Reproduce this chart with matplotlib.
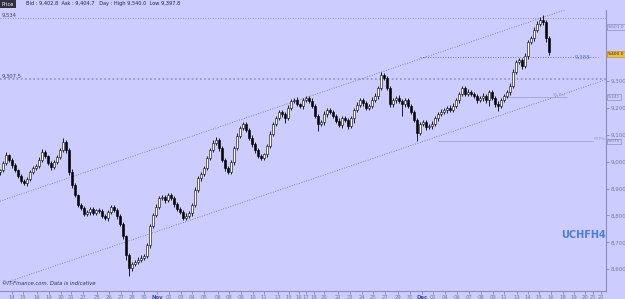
import matplotlib.pyplot as plt
import numpy as np

# %% Dane
close = [8968, 8995, 9025, 9006, 8988, 8969, 8947, 8928, 8921, 8935,
         8961, 8976, 8984, 9006, 9036, 9021, 8995, 8980, 8999, 9017,
         9043, 9073, 9043, 8961, 8913, 8876, 8839, 8828, 8805, 8813,
         8824, 8809, 8820, 8817, 8798, 8790, 8813, 8831, 8820, 8798,
         8768, 8723, 8653, 8604, 8619, 8627, 8634, 8642, 8649, 8690,
         8761, 8802, 8831, 8865, 8869, 8857, 8876, 8865, 8842, 8824,
         8813, 8790, 8798, 8809, 8839, 8895, 8939, 8954, 8976, 9014,
         9043, 9069, 9081, 9051, 9006, 8976, 8961, 8999, 9051, 9095,
         9125, 9140, 9118, 9088, 9066, 9043, 9021, 9014, 9028, 9058,
         9103, 9140, 9162, 9185, 9177, 9162, 9200, 9226, 9229, 9214,
         9207, 9229, 9237, 9226, 9207, 9170, 9140, 9147, 9177, 9192,
         9185, 9170, 9151, 9136, 9162, 9155, 9133, 9162, 9192, 9211,
         9229, 9218, 9200, 9207, 9229, 9244, 9274, 9322, 9311, 9274,
         9214, 9229, 9237, 9226, 9214, 9229, 9207, 9185, 9155, 9107,
         9140, 9147, 9129, 9133, 9140, 9162, 9177, 9185, 9192, 9200,
         9192, 9207, 9229, 9252, 9274, 9252, 9259, 9252, 9244, 9229,
         9237, 9244, 9229, 9259, 9237, 9214, 9207, 9229, 9244, 9259,
         9281, 9333, 9371, 9378, 9356, 9393, 9445, 9460, 9490, 9512,
         9527, 9519, 9460, 9408]
first_open = 8960
up_w = [6, 8, 10, 5, 6, 8, 5, 7, 6, 9, 8, 6, 7, 10, 12, 6, 5, 8, 7, 9,
        8, 15, 6, 8, 10, 6, 5, 7, 8, 6, 9, 7, 5, 8, 6, 7, 6, 8, 9, 7,
        6, 8, 5, 6, 7, 8, 10, 12, 9, 7, 8, 6, 10, 7, 6, 8, 9, 6, 7, 8,
        6, 9, 10, 7, 8, 12, 9, 7, 6, 8, 9, 10, 12, 8, 7, 9, 6, 8, 7, 10,
        9, 8, 7, 6, 10, 8, 9, 7, 6, 8, 10, 9, 7, 8, 6, 9, 12, 8, 7, 10,
        6, 8, 9, 7, 10, 8, 6, 9, 11, 7, 8, 6, 9, 10, 8, 7, 9, 6, 8, 10,
        7, 9, 6, 8, 10, 12, 8, 10, 7, 6, 9, 8, 7, 10, 6, 8, 9, 7, 8, 6,
        9, 7, 8, 6, 10, 8, 7, 9, 6, 8, 10, 12, 7, 8, 9, 6, 10, 8, 7, 9,
        8, 10, 6, 9, 7, 8, 10, 6, 8, 9, 12, 10, 8, 9, 7, 10, 8, 9, 10, 12,
        10, 18, 8, 6]
dn_w = [8, 6, 7, 9, 10, 6, 8, 7, 9, 12, 6, 8, 7, 6, 9, 8, 7, 10, 8, 6,
        7, 6, 9, 12, 10, 8, 7, 9, 6, 8, 10, 7, 9, 8, 6, 7, 12, 8, 9, 10,
        8, 10, 20, 30, 12, 8, 9, 7, 6, 8, 10, 9, 7, 8, 6, 9, 8, 7, 10, 8,
        9, 7, 6, 8, 10, 9, 7, 12, 8, 6, 9, 7, 8, 10, 6, 9, 8, 7, 10, 8,
        7, 9, 8, 6, 10, 12, 8, 9, 7, 10, 6, 8, 9, 7, 10, 18, 8, 9, 6, 8,
        9, 10, 7, 8, 6, 9, 25, 8, 10, 12, 7, 6, 9, 8, 10, 7, 12, 8, 20, 9,
        8, 10, 7, 9, 6, 8, 10, 9, 7, 8, 12, 10, 9, 8, 45, 10, 8, 9, 7, 30,
        9, 8, 10, 7, 12, 8, 9, 6, 8, 10, 7, 9, 8, 10, 6, 9, 8, 7, 9, 10,
        8, 10, 9, 22, 8, 10, 18, 9, 7, 8, 10, 6, 8, 9, 10, 8, 12, 9, 10, 8,
        9, 12, 15, 10]

tick_x = [12, 23, 37, 49, 61, 71, 83, 97, 109, 121, 132, 144, 157,
          169, 181, 192, 204, 218, 229, 241, 253, 264, 278, 289, 299, 306,
          314, 324, 338, 350, 362, 373, 385, 398, 410, 422,
          433, 445, 457, 469, 481, 493, 504, 517, 528, 539, 551, 563,
          574, 585, 593, 601]
tick_lab = ["14", "15", "16", "19", "20", "21", "23", "25", "26", "27", "28", "30", "Nov",
            "02", "03", "04", "05", "06", "08", "09", "10", "11", "13", "15", "16", "17",
            "18", "20", "22", "23", "24", "25", "27", "29", "30", "Dec",
            "02", "04", "06", "07", "08", "09", "11", "13", "14", "15", "16", "18",
            "19", "20", "21", "22"]
y_ticks = [8600, 8700, 8800, 8900, 9000, 9100, 9200, 9300]

# kanal trendu (x, cena)
upper_ch = ([0, 606], [8853, 9616])
lower_ch = ([3, 606], [8547, 9305])
# linie poziome: cena, x od, x do
h_full = [9534, 9307.5]
alert = (9388, 420, 598)
w_piv = (9241, 505, 567)
m_piv = (9075, 438, 593)
boxes = [(9501, "9,501.0"), (9241, "9,241"), (9075, "9,075")]
last_price = 9400.0

BG = "#ccccff"
GREY = "#7878a0"

# %% Wykres
fig = plt.figure(figsize=(6.25, 2.99), dpi=100, facecolor=BG)
ax = fig.add_axes([0, 8 / 299, 606 / 625, 281 / 299], facecolor=BG)
ax.set_xlim(0, 606)
ax.set_ylim(8519, 9564)

close = np.array(close, dtype=float)
opn = np.concatenate([[first_open], close[:-1]])
xs = np.arange(len(close)) * 3.0
hi = np.maximum(opn, close) + np.array(up_w)
lo = np.minimum(opn, close) - np.array(dn_w)

# kanal i linie
ax.plot(*upper_ch, ls=(0, (1, 2)), color="#6a6a90", lw=0.6)
ax.plot(*lower_ch, ls=(0, (1, 2)), color="#6a6a90", lw=0.6)
ax.axhline(h_full[0], ls=(0, (1, 2)), color="#8080a8", lw=0.6)
ax.axhline(h_full[1], ls=(0, (1, 1.5)), color="#9090c0", lw=1.2)
ax.hlines(alert[0], alert[1], alert[2], ls=(0, (1, 2)), color="#505080", lw=0.6)
ax.hlines(w_piv[0], w_piv[1], w_piv[2], color="#a8a8cc", lw=0.7)
ax.hlines(m_piv[0], m_piv[1], m_piv[2], color="#a8a8cc", lw=0.7)

# swiece
ax.vlines(xs, lo, hi, color="black", lw=0.6, zorder=3)
up = close >= opn
body_h = np.maximum(np.abs(close - opn), 2)
ax.bar(xs[up], body_h[up], bottom=opn[up], width=1.9, color="white",
       edgecolor="black", lw=0.4, zorder=4)
ax.bar(xs[~up], body_h[~up], bottom=close[~up], width=1.9, color="black",
       edgecolor="black", lw=0.4, zorder=4)

# osie
for s in ["top", "left"]:
    ax.spines[s].set_visible(False)
for s in ["right", "bottom"]:
    ax.spines[s].set_color("#8c8cb4")
    ax.spines[s].set_linewidth(0.8)
ax.yaxis.tick_right()
ax.set_yticks(y_ticks)
ax.set_yticklabels([f"{v:,}" for v in y_ticks])
ax.tick_params(axis="y", labelsize=4, colors=GREY, length=2, width=0.5, pad=1)
ax.set_xticks(tick_x)
ax.set_xticklabels(tick_lab)
ax.tick_params(axis="x", labelsize=3.8, colors=GREY, length=2, width=0.5, pad=1)
for t in ax.get_xticklabels():
    if t.get_text() in ("Nov", "Dec"):
        t.set_color("#3c4ab4")
        t.set_fontweight("bold")

# etykiety
ax.text(2, h_full[0] + 6, "9,534", fontsize=3.8, color="#404060")
ax.text(2, h_full[1] + 6, "9,307.5", fontsize=3.8, color="#404060")
ax.text(575, alert[0], "9,388", fontsize=4, color="#4a80e0", va="center")
ax.text(w_piv[1] + 48, w_piv[0] + 4, "W Piv", fontsize=3.2, color="#9898c0")
ax.text(m_piv[2] + 1, m_piv[0] + 4, "M Piv", fontsize=3.2, color="#9898c0")
ax.text(2, 8540, "\u00a9IT-Finance.com. Data is indicative", fontsize=3.8,
        style="italic", color="#303050")
ax.text(584, 8728, "UCHFH4", fontsize=7, color="#4a7fd8", ha="center",
        va="center", fontweight="semibold")

for v, s in boxes:
    ax.annotate(s, xy=(1.0, v), xycoords=("axes fraction", "data"),
                xytext=(1.5, 0), textcoords="offset points", fontsize=3.2,
                color=GREY, va="center",
                bbox=dict(boxstyle="square,pad=0.15", fc=BG, ec="#9090b8", lw=0.5))
ax.annotate(f"{last_price:,.1f}", xy=(1.0, last_price),
            xycoords=("axes fraction", "data"), xytext=(1.5, 0),
            textcoords="offset points", fontsize=3.2, color="#302000",
            va="center",
            bbox=dict(boxstyle="square,pad=0.15", fc="#f0c040", ec="#c09020", lw=0.5))

# naglowek
fig.text(0.003, 1 - 4 / 299, "Price", fontsize=3.6, color="white", va="center",
         bbox=dict(boxstyle="square,pad=0.3", fc="#303040", ec="none"))
fig.text(26 / 625, 1 - 4 / 299,
         "Bid : 9,402.8  Ask : 9,404.7   Day : High 9,540.0  Low 9,397.8",
         fontsize=3.6, color="#202040", va="center")

fig.savefig("out.png", dpi=100, facecolor=BG)
